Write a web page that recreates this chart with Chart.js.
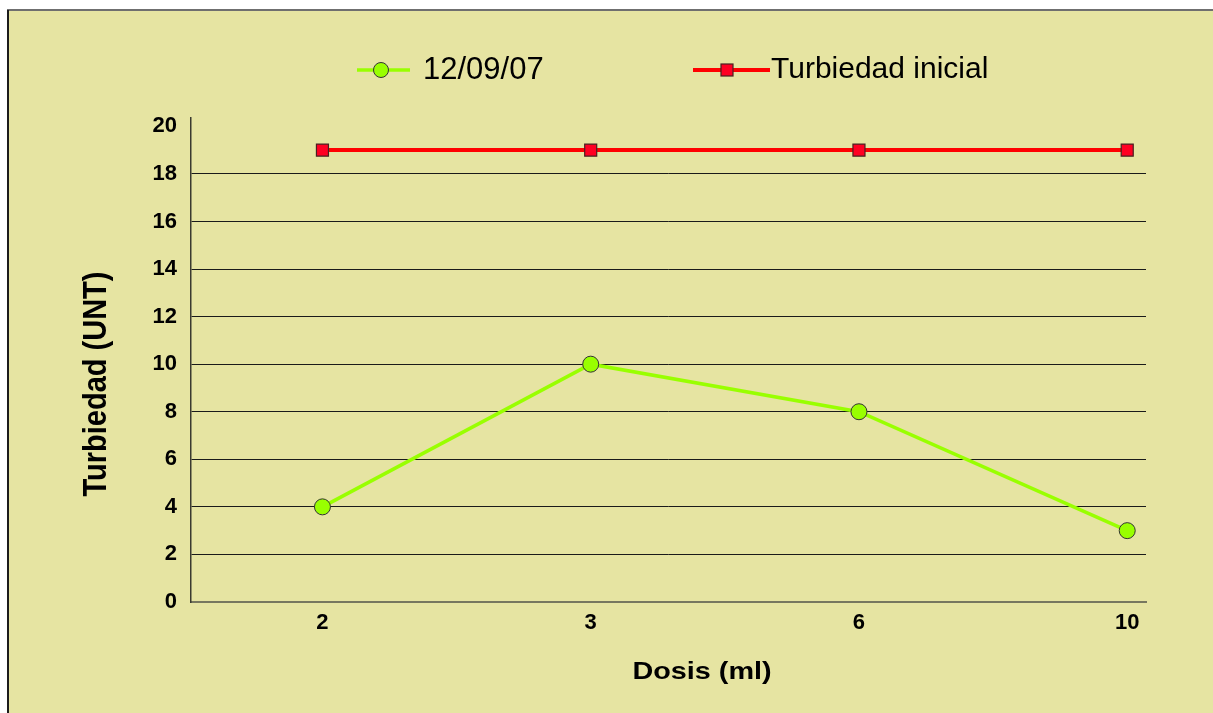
<!DOCTYPE html>
<html>
<head>
<meta charset="utf-8">
<script src="https://cdn.jsdelivr.net/npm/chart.js@4/dist/chart.umd.min.js"></script>
<style>
  html, body { margin: 0; padding: 0; background: #fff; }
  #wrap { width: 1213px; height: 713px; }
</style>
</head>
<body>
<div id="wrap"><canvas id="c" width="1213" height="713"></canvas></div>
<script>
// Dose categories (ml) and turbidity readings (UNT)
const doses = ['2', '3', '6', '10'];
const turbidity120907 = [4, 10, 8, 3];
const initialTurbidity = [19, 19, 19, 19];
const yTickValues = [0, 2, 4, 6, 8, 10, 12, 14, 16, 18, 20];
const seriesNames = ['12/09/07', 'Turbiedad inicial'];
const xTitle = 'Dosis (ml)';
const yTitle = 'Turbiedad (UNT)';

const FONT = "'Liberation Sans', Arial, sans-serif";
const GREEN = '#99FF00';
const RED = '#FF0000';
const PANEL = '#E6E4A2';

const toPoints = values => values.map((v, i) => ({ x: i, y: v }));

// Panel background and its border
const panelPlugin = {
  id: 'panel',
  beforeDraw(chart) {
    const { ctx, width, height } = chart;
    ctx.save();
    ctx.fillStyle = '#fff';
    ctx.fillRect(0, 0, width, height);
    ctx.fillStyle = PANEL;
    ctx.fillRect(7, 10, width - 7, height - 10);
    ctx.strokeStyle = '#6f6f6f';
    ctx.lineWidth = 2;
    ctx.beginPath();
    ctx.moveTo(7, 10);
    ctx.lineTo(width, 10);
    ctx.stroke();
    ctx.strokeStyle = '#1c1c1c';
    ctx.beginPath();
    ctx.moveTo(8, 10);
    ctx.lineTo(8, height);
    ctx.stroke();
    ctx.restore();
  }
};

// Axis titles, drawn slightly widened
const titlesPlugin = {
  id: 'axisTitles',
  afterDraw(chart) {
    const { ctx } = chart;
    ctx.save();
    ctx.fillStyle = '#000';
    ctx.textAlign = 'center';
    ctx.textBaseline = 'middle';
    ctx.font = `bold 24px ${FONT}`;
    ctx.save();
    ctx.translate(702, 672);
    ctx.scale(1.2, 1);
    ctx.fillText(xTitle, 0, 0);
    ctx.restore();
    ctx.font = `bold 29px ${FONT}`;
    ctx.save();
    ctx.translate(97, 384);
    ctx.scale(1.15, 1);
    ctx.rotate(-Math.PI / 2);
    ctx.fillText(yTitle, 0, 0);
    ctx.restore();
    ctx.restore();
  }
};

// Legend with line-through markers
const legendPlugin = {
  id: 'lineLegend',
  afterDraw(chart) {
    const { ctx } = chart;
    const y = 70;
    ctx.save();
    // first series
    ctx.strokeStyle = GREEN;
    ctx.lineWidth = 3.5;
    ctx.beginPath();
    ctx.moveTo(357, y);
    ctx.lineTo(410, y);
    ctx.stroke();
    ctx.beginPath();
    ctx.arc(381, y, 7.5, 0, Math.PI * 2);
    ctx.fillStyle = GREEN;
    ctx.fill();
    ctx.lineWidth = 1;
    ctx.strokeStyle = '#333';
    ctx.stroke();
    // second series
    ctx.strokeStyle = RED;
    ctx.lineWidth = 4;
    ctx.beginPath();
    ctx.moveTo(693, y);
    ctx.lineTo(770, y);
    ctx.stroke();
    ctx.fillStyle = '#FF0022';
    ctx.fillRect(721, y - 6, 12, 12);
    ctx.strokeStyle = '#4a2020';
    ctx.lineWidth = 1.2;
    ctx.strokeRect(721, y - 6, 12, 12);
    // labels
    ctx.fillStyle = '#000';
    ctx.textBaseline = 'middle';
    ctx.textAlign = 'left';
    ctx.font = `31px ${FONT}`;
    ctx.fillText(seriesNames[0], 423, y);
    ctx.font = `30px ${FONT}`;
    ctx.fillText(seriesNames[1], 771, y);
    ctx.restore();
  }
};

new Chart(document.getElementById('c'), {
  type: 'line',
  data: {
    datasets: [
      {
        label: seriesNames[0],
        data: toPoints(turbidity120907),
        borderColor: GREEN,
        borderWidth: 3.5,
        pointStyle: 'circle',
        pointRadius: 8,
        pointBackgroundColor: GREEN,
        pointBorderColor: '#333',
        pointBorderWidth: 1,
        tension: 0
      },
      {
        label: seriesNames[1],
        data: toPoints(initialTurbidity),
        borderColor: RED,
        borderWidth: 4,
        pointStyle: 'rect',
        pointRadius: 8.5,
        pointBackgroundColor: '#FF0022',
        pointBorderColor: '#4a2020',
        pointBorderWidth: 1.2,
        tension: 0
      }
    ]
  },
  options: {
    responsive: false,
    animation: false,
    devicePixelRatio: 1,
    layout: { padding: { top: 118, right: 67, left: 0, bottom: 0 } },
    plugins: {
      legend: { display: false },
      tooltip: { enabled: false }
    },
    scales: {
      x: {
        type: 'linear',
        min: -0.49,
        max: 3.07,
        afterBuildTicks(axis) {
          axis.ticks = doses.map((d, i) => ({ value: i }));
        },
        afterFit(axis) { axis.height = 111; },
        ticks: {
          callback: v => doses[v],
          color: '#000',
          font: { family: FONT, size: 22, weight: 'bold' },
          padding: 8,
          maxRotation: 0
        },
        grid: { display: false, drawTicks: false },
        border: { display: true, color: '#77775f', width: 2 }
      },
      y: {
        min: 0,
        max: 20.35,
        afterBuildTicks(axis) {
          axis.ticks = yTickValues.map(v => ({ value: v }));
        },
        afterFit(axis) { axis.width = 191; },
        ticks: {
          color: '#000',
          font: { family: FONT, size: 22, weight: 'bold' },
          padding: 14
        },
        grid: {
          drawTicks: false,
          lineWidth: 1,
          color: c => (c.tick && (c.tick.value === 20 || c.tick.value === 0)) ? 'rgba(0,0,0,0)' : '#1a1a1a'
        },
        border: { display: true, color: '#3a3a30', width: 1.5 }
      }
    }
  },
  plugins: [panelPlugin, titlesPlugin, legendPlugin]
});
</script>
</body>
</html>
